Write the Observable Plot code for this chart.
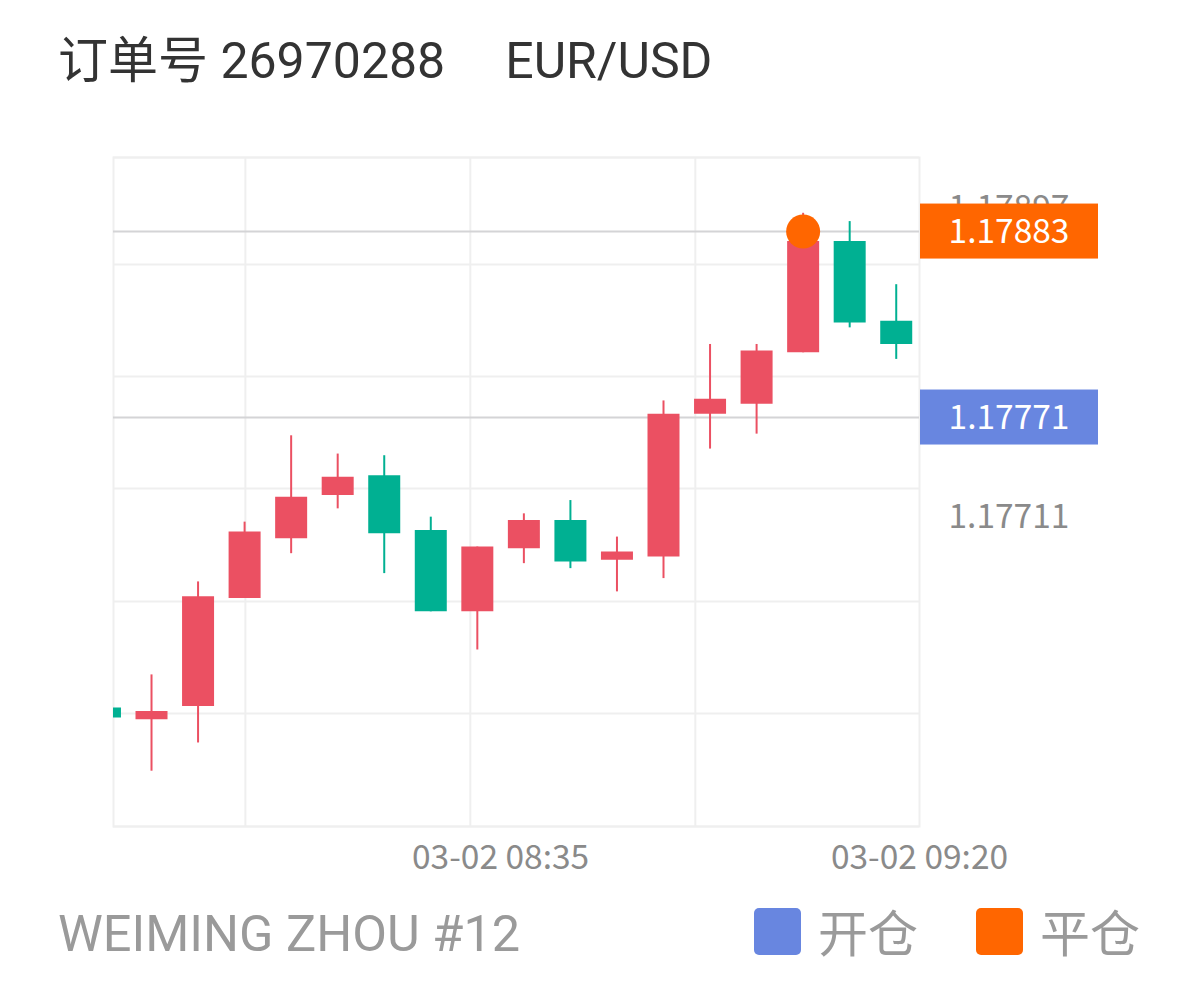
<!DOCTYPE html>
<html>
<head>
<meta charset="utf-8">
<script src="https://cdn.jsdelivr.net/npm/d3@7"></script>
<script src="https://cdn.jsdelivr.net/npm/@observablehq/plot@0.6"></script>
<style>
  html, body { margin: 0; padding: 0; background: #fff; }
  #page { position: relative; width: 1198px; height: 990px; overflow: hidden; }
  #title { position: absolute; left: 58px; top: 31px; font-family: Roboto, "Noto Sans CJK SC", sans-serif; font-size: 50px; line-height: 50px; color: #333; white-space: pre; }
  #title .cjk { font-family: "Noto Sans CJK SC", sans-serif; }
  #chart { position: absolute; left: 0; top: 110px; }
  #footer { position: absolute; left: 0; top: 890px; width: 1198px; height: 100px; }
  #owner { position: absolute; left: 58px; top: 19px; font-family: Roboto, sans-serif; font-size: 50.5px; line-height: 50px; color: #9a9a9a; white-space: pre; }
  .lg { position: absolute; top: 18px; width: 47px; height: 47px; border-radius: 5px; }
  .lgt { position: absolute; top: 15px; font-family: "Noto Sans CJK SC", sans-serif; font-size: 50px; line-height: 50px; color: #9a9a9a; }
</style>
</head>
<body>
<div id="page">
  <div id="title"><span class="cjk">订单号</span> 26970288<span style="margin-left:60px">EUR/USD</span></div>
  <div id="chart"></div>
  <div id="footer">
    <div id="owner">WEIMING ZHOU #12</div>
    <div class="lg" style="left:754px;background:#6886E0"></div>
    <div class="lgt" style="left:818px">开仓</div>
    <div class="lg" style="left:976px;background:#FF6600"></div>
    <div class="lgt" style="left:1040px">平仓</div>
  </div>
</div>
<script>
// ---- data (EUR/USD 5-minute candles, 03-02) ----
const candleStarts = ["07:50","07:55","08:00","08:05","08:10","08:15","08:20","08:25","08:30",
                      "08:35","08:40","08:45","08:50","08:55","09:00","09:05","09:10","09:15"];
const opens  = [1.17596,1.17589,1.17597,1.17662,1.17698,1.17724,1.17736,1.17703,1.17654,
                1.17692,1.17709,1.17685,1.17687,1.17773,1.17779,1.17810,1.17877,1.17829];
const highs  = [1.17596,1.17616,1.17672,1.17708,1.17760,1.17749,1.17748,1.17711,1.17693,
                1.17713,1.17721,1.17699,1.17781,1.17815,1.17815,1.17894,1.17889,1.17851];
const lows   = [1.17590,1.17558,1.17575,1.17662,1.17689,1.17716,1.17677,1.17654,1.17631,
                1.17683,1.17680,1.17666,1.17674,1.17752,1.17761,1.17810,1.17825,1.17806];
const closes = [1.17590,1.17594,1.17663,1.17702,1.17723,1.17735,1.17701,1.17654,1.17693,
                1.17709,1.17684,1.17690,1.17773,1.17782,1.17811,1.17877,1.17828,1.17815];

const openPrice = 1.17771;   // 开仓
const closePrice = 1.17883;  // 平仓
const closeCandle = "09:05";
const yTickValues = [1.17897, 1.17711];
const xTickTimes = ["08:35", "09:20"];
const xGridTimes = ["08:07:35", "08:31:45", "08:55:55"];
const yGridValues = [1.179276, 1.178631, 1.177957, 1.177283, 1.176602, 1.175928, 1.175247];
const yDomain = [1.175247, 1.179276];
const xDomainTimes = ["07:53:25", "09:20:00"];

// ---- helpers ----
const day = "2021-03-02T";
const t = s => new Date(day + (s.length === 5 ? s + ":00" : s) + "Z");
const mid = s => new Date(t(s).getTime() + 150000);

const UP = "#EB5062", DOWN = "#00B092", ORANGE = "#FF6600", BLUE = "#6886E0";

const candles = candleStarts.map((s, i) => ({
  x: mid(s), open: opens[i], high: highs[i], low: lows[i], close: closes[i],
  color: closes[i] >= opens[i] ? UP : DOWN
}));

const tags = [
  {value: closePrice, color: ORANGE},
  {value: openPrice, color: BLUE}
];
const fmt = d3.format(".5f");

function priceTags(index, scales, values, dimensions) {
  const g = d3.create("svg:g");
  const x0 = dimensions.width - dimensions.marginRight + 1;
  for (const tg of tags) {
    const y = scales.y(tg.value);
    g.append("rect").attr("x", x0).attr("y", y - 27.5).attr("width", 178).attr("height", 55).attr("fill", tg.color);
    g.append("text").attr("x", x0 + 89).attr("y", y).attr("dy", "0.36em")
      .attr("text-anchor", "middle").attr("fill", "#fff")
      .attr("font-family", "'Noto Sans CJK SC', sans-serif").attr("font-size", 33.5)
      .text(fmt(tg.value));
  }
  return g.node();
}

const chart = Plot.plot({
  width: 1198,
  height: 780,
  marginLeft: 113,
  marginRight: 279,
  marginTop: 47,
  marginBottom: 64,
  style: {fontFamily: "'Noto Sans CJK SC', sans-serif", fontSize: "33.5px", color: "#8a8a8a", background: "#fff"},
  x: {type: "utc", domain: xDomainTimes.map(t), ticks: xTickTimes.map(t), tickFormat: d3.utcFormat("%m-%d %H:%M"), tickSize: 0, tickPadding: 19, label: null},
  y: {domain: yDomain, axis: "right", ticks: yTickValues, tickFormat: fmt, tickSize: 0, tickPadding: 29, label: null},
  marks: [
    Plot.ruleY(yGridValues, {stroke: "#efefef", strokeWidth: 2}),
    Plot.ruleX(xGridTimes.map(t), {stroke: "#efefef", strokeWidth: 2}),
    Plot.frame({stroke: "#efefef", strokeWidth: 2}),
    Plot.ruleY([closePrice, openPrice], {stroke: "#d4d4d6", strokeWidth: 2}),
    Plot.ruleX(candles, {x: "x", y1: "low", y2: "high", stroke: "color", strokeWidth: 2, clip: true}),
    Plot.ruleX(candles, {x: "x", y1: "open", y2: "close", stroke: "color", strokeWidth: 32, clip: true}),
    Plot.dot([{x: mid(closeCandle), y: closePrice}], {x: "x", y: "y", r: 17, fill: ORANGE, stroke: "none"}),
    priceTags
  ]
});
document.getElementById("chart").appendChild(chart);
</script>
</body>
</html>
